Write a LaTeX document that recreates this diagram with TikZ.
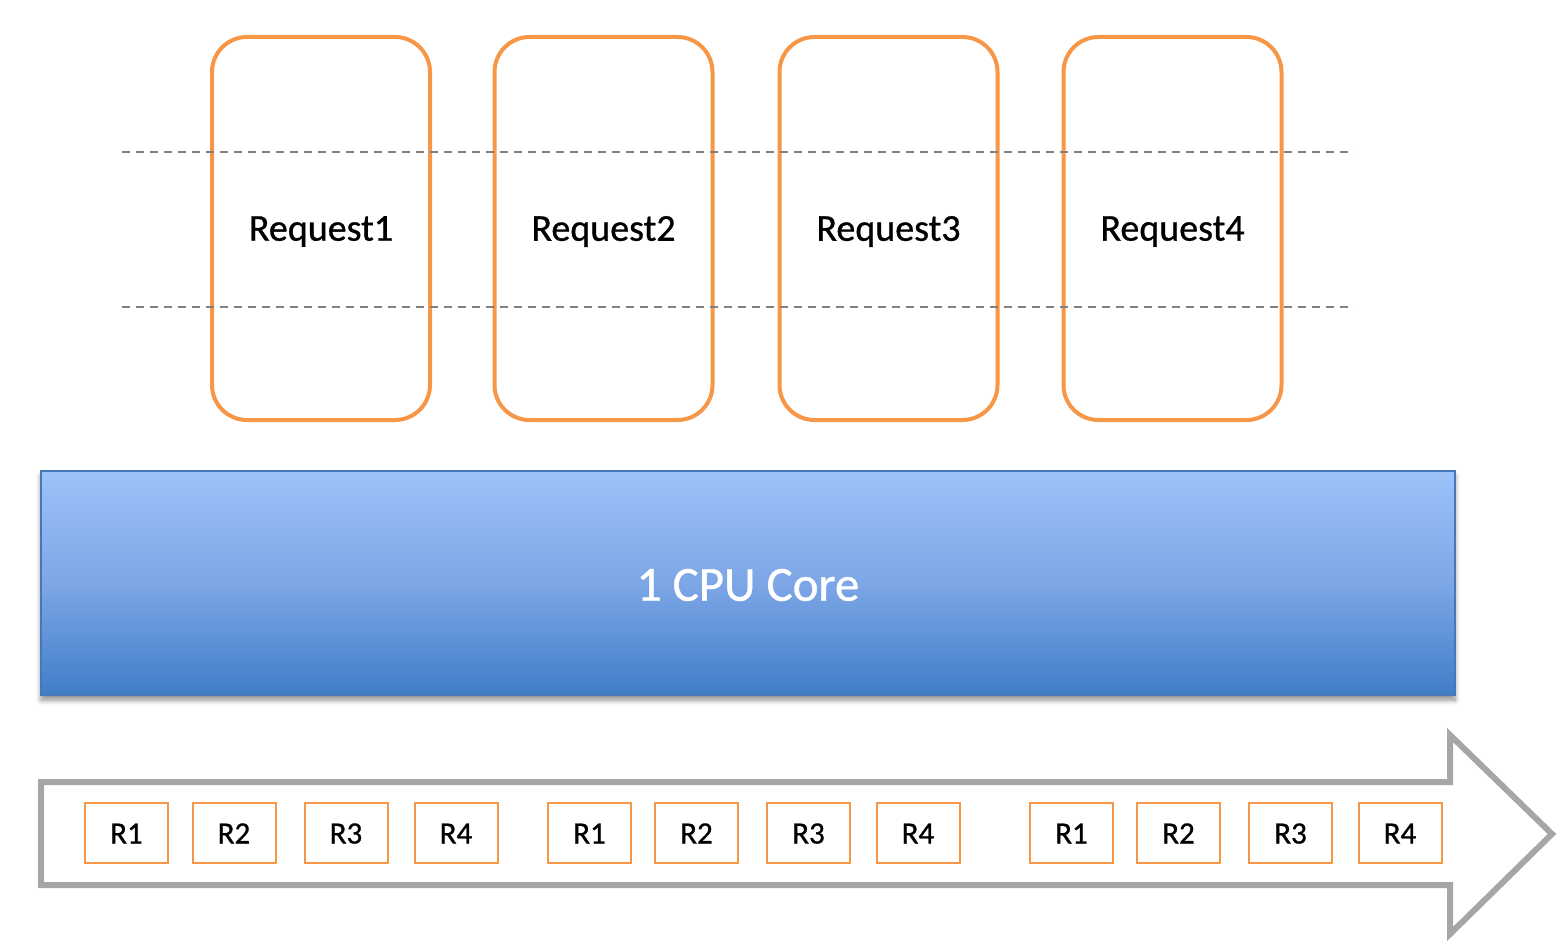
\documentclass[tikz,border=0pt]{standalone}
\usepackage{fontspec}
\setmainfont{Carlito}
\newfontfamily\lblfont{Carlito}[FakeBold=0.8]
\usetikzlibrary{shadows.blur}
\definecolor{reqorange}{RGB}{247,150,70}
\definecolor{dashgray}{RGB}{128,128,128}
\definecolor{arrowgray}{RGB}{166,166,166}
\definecolor{cputop}{RGB}{157,195,250}
\definecolor{cpumid}{RGB}{125,166,230}
\definecolor{cpubot}{RGB}{64,126,200}
\definecolor{cpuedge}{RGB}{70,120,185}
\tikzset{
  reqbox/.style={draw=reqorange, line width=4pt, rounded corners=35pt,
    minimum width=218pt, minimum height=383pt, inner sep=0pt},
  reqlabel/.style={inner sep=0pt, font=\lblfont\fontsize{38}{46}\selectfont},
  slotbox/.style={draw=reqorange, line width=2pt, minimum width=83pt,
    minimum height=60pt, inner sep=0pt, text depth=0pt, text height=21pt,
    font=\lblfont\fontsize{31}{37}\selectfont},
  guide/.style={draw=dashgray, line width=1.8pt, dash pattern=on 8pt off 6pt},
  cpubox/.style={draw=cpuedge, line width=1.2pt, top color=cputop, bottom color=cpubot,
    middle color=cpumid, minimum width=1414pt, minimum height=224pt, inner sep=0pt,
    blur shadow={shadow xshift=0pt, shadow yshift=-5pt, shadow blur radius=5pt, shadow blur steps=8, shadow opacity=45}},
  cpulabel/.style={inner sep=0pt, text=white, font=\lblfont\fontsize{49}{58}\selectfont},
  timearrow/.style={draw=arrowgray, line width=6pt, line join=miter},
}
\begin{document}
\begin{tikzpicture}[x=1pt,y=-1pt]
\useasboundingbox (0,0) rectangle (1568,950);

% request boxes
\foreach \i/\cx in {1/321,2/603.5,3/888.5,4/1172.5}{
  \node[reqbox] (req\i) at (\cx,228.5) {};
  \node[reqlabel] (reqt\i) at ([yshift=-3pt]req\i.center) {Request\i};
}

% dashed guide lines
\coordinate (g1a) at (122,152);
\coordinate (g1b) at (1354,152);
\coordinate (g2a) at (122,307);
\coordinate (g2b) at (1354,307);
\draw[guide] (g1a) -- (g1b);
\draw[guide] (g2a) -- (g2b);

% CPU core
\node[cpubox] (cpu) at (748,583) {};
\node[cpulabel] (cput) at ([yshift=-2pt]cpu.center) {1 CPU Core};

% time arrow
\coordinate (a1) at (41,782);
\coordinate (a2) at (1450,782);
\coordinate (a3) at (1450,735);
\coordinate (a4) at (1552,834);
\coordinate (a5) at (1450,934);
\coordinate (a6) at (1450,885);
\coordinate (a7) at (41,885);
\draw[timearrow] (a1) -- (a2) -- (a3) -- (a4) -- (a5) -- (a6) -- (a7) -- cycle;

% slots
\node[slotbox] (s1) at (126.5,833) {R1};
\node[slotbox] (s2) at (234,833) {R2};
\node[slotbox] (s3) at (346,833) {R3};
\node[slotbox] (s4) at (456,833) {R4};
\node[slotbox] (s5) at (589.5,833) {R1};
\node[slotbox] (s6) at (696.5,833) {R2};
\node[slotbox] (s7) at (808.5,833) {R3};
\node[slotbox] (s8) at (918,833) {R4};
\node[slotbox] (s9) at (1071.5,833) {R1};
\node[slotbox] (s10) at (1178.5,833) {R2};
\node[slotbox] (s11) at (1290.5,833) {R3};
\node[slotbox] (s12) at (1400,833) {R4};
\end{tikzpicture}
\end{document}
